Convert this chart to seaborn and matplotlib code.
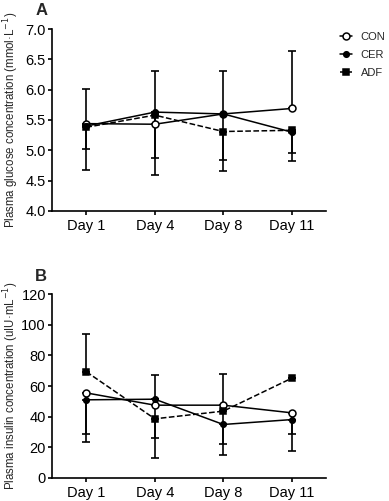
import numpy as np
import pandas as pd
import matplotlib
matplotlib.use('Agg')
import matplotlib.pyplot as plt
import seaborn as sns

sns.set_theme(style='ticks')
plt.rcParams['font.family'] = ['Liberation Sans', 'DejaVu Sans']

days = ['Day 1', 'Day 4', 'Day 8', 'Day 11']
groups = ['CON', 'CER', 'ADF']

# panel A - glucose (mmol/L)
glu_con = [5.44, 5.43, 5.60, 5.69]
glu_cer = [5.40, 5.63, 5.60, 5.30]
glu_adf = [5.38, 5.58, 5.31, 5.33]
glu_con_up = [0.57, 0.88, 0.70, 0.94]
glu_con_dn = [0, 0, 0, 0]
glu_cer_up = [0, 0, 0, 0]
glu_cer_dn = [0.72, 1.03, 0.94, 0.48]
glu_adf_up = [0, 0, 0, 0]
glu_adf_dn = [0.36, 0.70, 0.47, 0.37]

# panel B - insulin (uIU/mL)
ins_con = [55.5, 47.5, 47.5, 42.5]
ins_cer = [51.0, 51.4, 34.9, 38.1]
ins_adf = [69.3, 38.6, 43.6, 65.1]
ins_con_up = [0, 19.6, 20.5, 0]
ins_con_dn = [26.5, 0, 0, 13.8]
ins_cer_up = [0, 0, 0, 0]
ins_cer_dn = [27.5, 38.3, 20.1, 20.7]
ins_adf_up = [24.7, 0, 0, 0]
ins_adf_dn = [0, 12.2, 21.2, 0]

styles = {
    'CON': dict(marker='o', linestyle='-', markerfacecolor='white'),
    'CER': dict(marker='o', linestyle='-', markerfacecolor='black'),
    'ADF': dict(marker='s', linestyle='--', markerfacecolor='black'),
}
msize = {'CON': 5, 'CER': 4, 'ADF': 4.5}


def panel(ax, means, ups, dns, ylim, yticks, yfmt, ylabel, letter, lety):
    x = np.arange(len(days))
    for g in groups:
        ax.errorbar(x, means[g], yerr=[dns[g], ups[g]], fmt='none', ecolor='black',
                    elinewidth=1.2, capsize=3, capthick=1.2, zorder=2)
    for g in groups:
        df = pd.DataFrame({'x': x, 'y': means[g]})
        st = styles[g]
        sns.lineplot(data=df, x='x', y='y', ax=ax, color='black', lw=1.1,
                     marker=st['marker'], linestyle=st['linestyle'],
                     markerfacecolor=st['markerfacecolor'], markeredgecolor='black',
                     markeredgewidth=1.1, markersize=msize[g], label=g, zorder=3)
    ax.set_xlim(-0.5, 3.5)
    ax.set_ylim(*ylim)
    ax.set_yticks(yticks)
    ax.set_yticklabels([yfmt.format(v) for v in yticks])
    ax.set_xticks(x)
    ax.set_xticklabels(days)
    ax.set_xlabel('')
    ax.set_ylabel(ylabel, fontsize=8.3)
    ax.yaxis.set_label_coords(-0.115, 0.5)
    ax.tick_params(axis='both', labelsize=10.5, width=1.2, length=3, color='black', labelcolor='black')
    ax.tick_params(axis='y', pad=1.5)
    ax.tick_params(axis='x', pad=2.5)
    for s in ['left', 'bottom']:
        ax.spines[s].set_linewidth(1.2)
        ax.spines[s].set_color('black')
    sns.despine(ax=ax)
    ax.text(-0.062, lety, letter, transform=ax.transAxes, fontsize=12, fontweight='bold', va='bottom')


fig = plt.figure(figsize=(3.89, 5.01), dpi=100)
axA = fig.add_axes([0.134, 0.579, 0.704, 0.363])
axB = fig.add_axes([0.134, 0.046, 0.704, 0.367])

panel(axA,
      {'CON': glu_con, 'CER': glu_cer, 'ADF': glu_adf},
      {'CON': glu_con_up, 'CER': glu_cer_up, 'ADF': glu_adf_up},
      {'CON': glu_con_dn, 'CER': glu_cer_dn, 'ADF': glu_adf_dn},
      (4.0, 7.0), np.arange(4.0, 7.01, 0.5), '{:.1f}',
      'Plasma glucose concentration (mmol·L$^{-1}$)', 'A', 1.06)
panel(axB,
      {'CON': ins_con, 'CER': ins_cer, 'ADF': ins_adf},
      {'CON': ins_con_up, 'CER': ins_cer_up, 'ADF': ins_adf_up},
      {'CON': ins_con_dn, 'CER': ins_cer_dn, 'ADF': ins_adf_dn},
      (0, 120), np.arange(0, 121, 20), '{:.0f}',
      'Plasma insulin concentration (uIU·mL$^{-1}$)', 'B', 1.055)

handles, labels = axA.get_legend_handles_labels()
axA.legend_.remove()
axB.legend_.remove()
fig.legend(handles, labels, loc='upper left', bbox_to_anchor=(0.862, 0.945), frameon=False,
           fontsize=8, handlelength=1.1, handletextpad=0.8, labelspacing=0.7, borderaxespad=0)

fig.savefig('out.png', dpi=100)
